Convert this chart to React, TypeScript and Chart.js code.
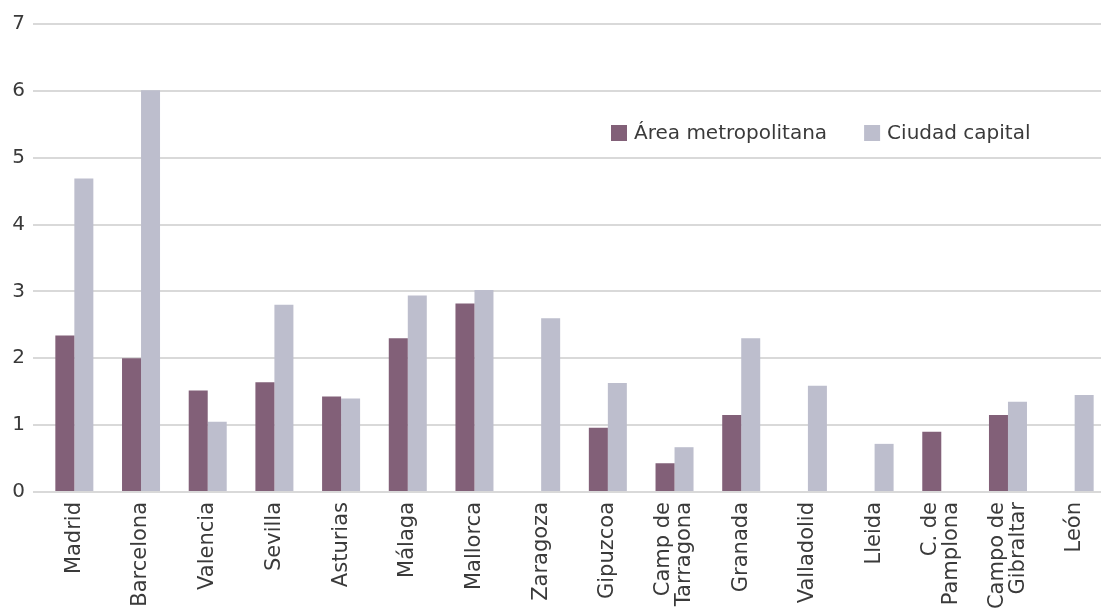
import React, { useEffect, useRef } from "react";
import { Chart, registerables } from "chart.js";

Chart.register(...registerables);

const categories: (string | string[])[] = [
  "Madrid",
  "Barcelona",
  "Valencia",
  "Sevilla",
  "Asturias",
  "Málaga",
  "Mallorca",
  "Zaragoza",
  "Gipuzcoa",
  ["Camp de", "Tarragona"],
  "Granada",
  "Valladolid",
  "Lleida",
  ["C. de", "Pamplona"],
  ["Campo de", "Gibraltar"],
  "León",
];

const areaMetropolitana: (number | null)[] = [
  2.34, 2.0, 1.52, 1.64, 1.43, 2.3, 2.82, null, 0.96, 0.43, 1.15, null, null, 0.9, 1.15, null,
];

const ciudadCapital: (number | null)[] = [
  4.69, 6.01, 1.05, 2.8, 1.4, 2.94, 3.02, 2.6, 1.63, 0.67, 2.3, 1.59, 0.72, null, 1.35, 1.45,
];

const seriesLabels = ["Área metropolitana", "Ciudad capital"];
const yTicks = [0, 1, 2, 3, 4, 5, 6, 7];

const FONT = "'DejaVu Sans', sans-serif";
const TEXT = "#3a3a3a";
const DARK = "#826078";
const LIGHT = "#bdbecd";
const GRID = "#d9d9d9";

const insideLegend = {
  id: "insideLegend",
  afterDraw(chart: any) {
    const ctx = chart.ctx as CanvasRenderingContext2D;
    ctx.save();
    ctx.font = `20px ${FONT}`;
    ctx.textBaseline = "middle";
    ctx.textAlign = "left";
    let x = 611;
    const y = 133;
    chart.data.datasets.forEach((ds: any) => {
      ctx.fillStyle = ds.backgroundColor;
      ctx.fillRect(x, y - 8, 16, 16);
      x += 23;
      ctx.fillStyle = TEXT;
      ctx.fillText(ds.label, x, y + 1);
      x += ctx.measureText(ds.label).width + 37;
    });
    ctx.restore();
  },
};

// Rotated, centred category labels (multi-line labels centred on their tick)
const xLabels = {
  id: "xLabels",
  afterDraw(chart: any) {
    const ctx = chart.ctx as CanvasRenderingContext2D;
    const xs = chart.scales.x;
    const top = chart.chartArea.bottom + 10;
    const lh = 21;
    ctx.save();
    ctx.font = `21px ${FONT}`;
    ctx.fillStyle = TEXT;
    ctx.textAlign = "right";
    ctx.textBaseline = "middle";
    (chart.data.labels as (string | string[])[]).forEach((lab, i) => {
      const lines = Array.isArray(lab) ? lab : [lab];
      const px = xs.getPixelForTick(i);
      ctx.save();
      ctx.translate(px, top);
      ctx.rotate(-Math.PI / 2);
      lines.forEach((ln, j) => {
        const off = (j - (lines.length - 1) / 2) * lh;
        ctx.fillText(ln, 0, off);
      });
      ctx.restore();
    });
    ctx.restore();
  },
};

export default function App() {
  const ref = useRef<HTMLCanvasElement>(null);

  useEffect(() => {
    if (!ref.current) return;
    const chart = new Chart(ref.current, {
      type: "bar",
      data: {
        labels: categories,
        datasets: [
          {
            label: seriesLabels[0],
            data: areaMetropolitana,
            backgroundColor: DARK,
            barPercentage: 1,
            categoryPercentage: 0.57,
          },
          {
            label: seriesLabels[1],
            data: ciudadCapital,
            backgroundColor: LIGHT,
            barPercentage: 1,
            categoryPercentage: 0.57,
          },
        ],
      },
      options: {
        animation: false,
        responsive: false,
        devicePixelRatio: 1,
        layout: { padding: { top: 24, left: 0, right: 0, bottom: 0 } },
        plugins: {
          legend: { display: false },
          tooltip: { enabled: false },
        },
        scales: {
          x: {
            grid: { display: false },
            border: { display: false },
            ticks: { display: false, autoSkip: false },
            afterFit(scale: any) {
              scale.height = 116;
            },
          },
          y: {
            min: 0,
            max: 7,
            afterBuildTicks(scale: any) {
              scale.ticks = yTicks.map((v) => ({ value: v }));
            },
            grid: {
              color: GRID,
              lineWidth: 2,
              drawTicks: true,
              tickLength: 8,
            },
            border: { display: false },
            ticks: {
              padding: 8,
              color: TEXT,
              font: { family: FONT, size: 20 },
            },
            afterFit(scale: any) {
              scale.width = 41;
            },
          },
        },
      },
      plugins: [insideLegend, xLabels],
    });
    return () => chart.destroy();
  }, []);

  return (
    <div
      style={{
        position: "fixed",
        left: 0,
        top: 0,
        width: 1101,
        height: 608,
        overflow: "hidden",
        background: "#fff",
      }}
    >
      <canvas ref={ref} width={1108} height={608} style={{ display: "block" }} />
    </div>
  );
}
